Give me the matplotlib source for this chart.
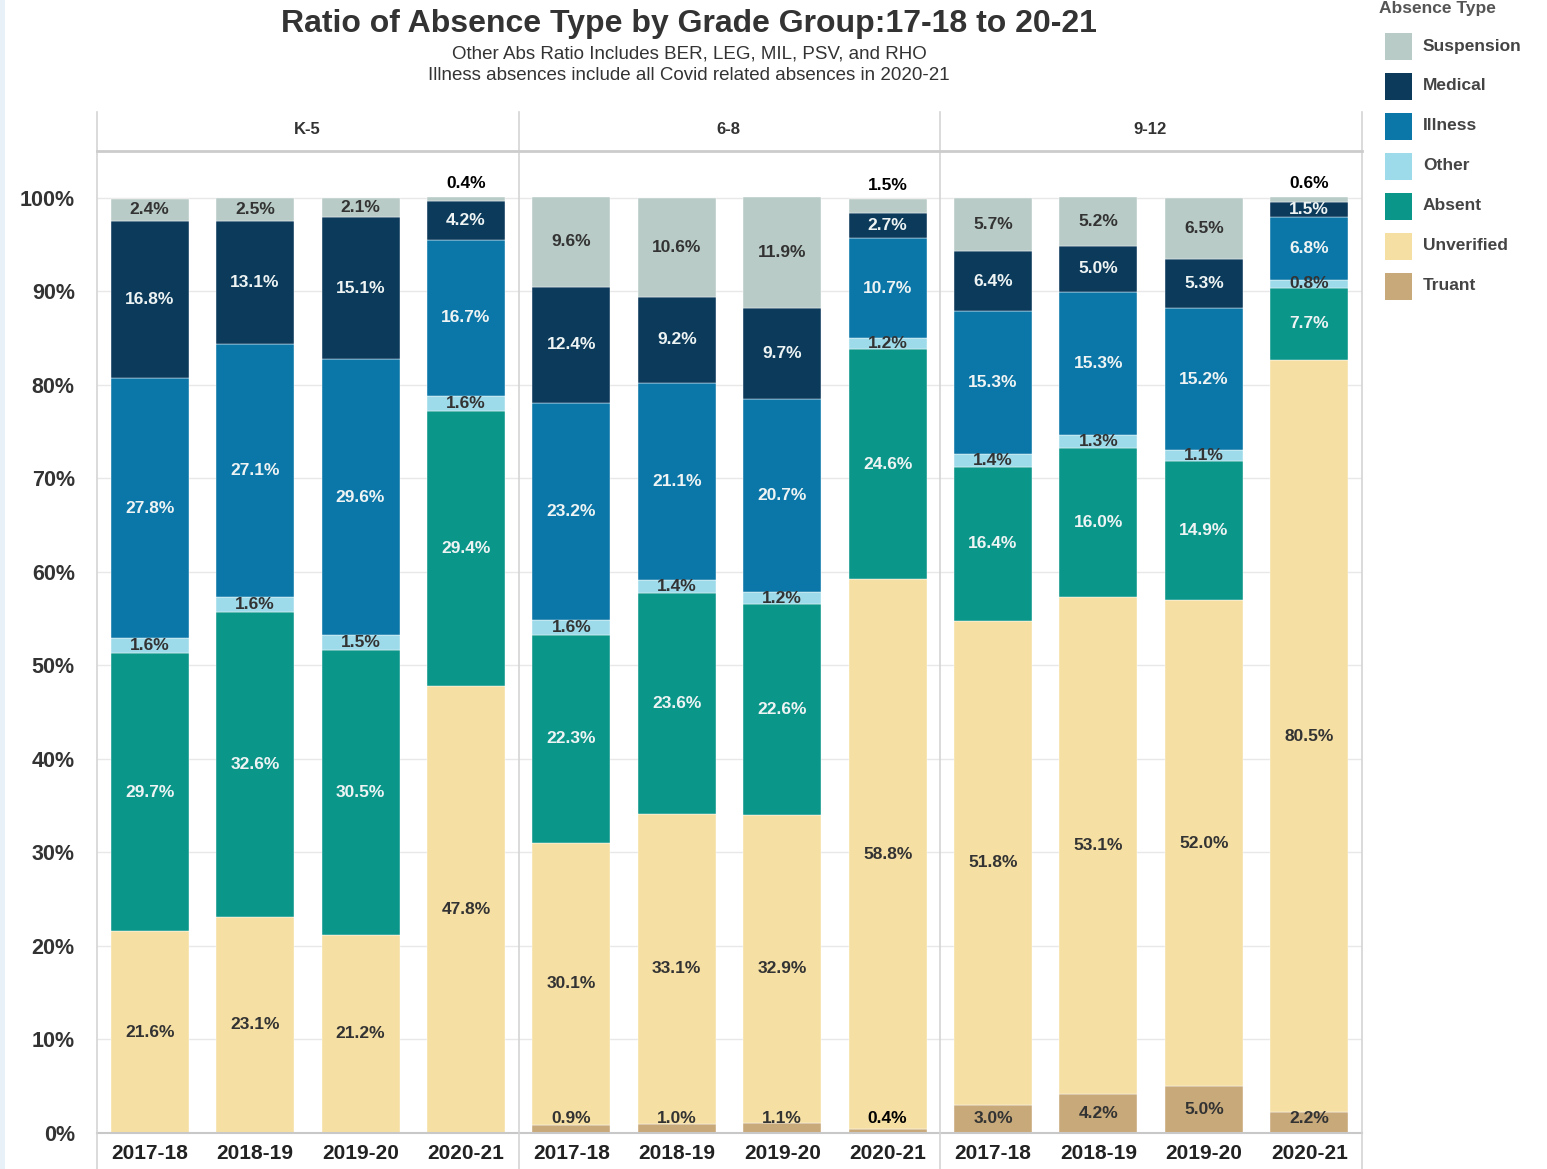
import numpy as np
import matplotlib
matplotlib.use("Agg")
import matplotlib.pyplot as plt
from matplotlib.patches import Rectangle

plt.rcParams['font.family'] = ['Liberation Sans', 'DejaVu Sans']

# 数据
groups = ['K-5', '6-8', '9-12']
years = ['2017-18', '2018-19', '2019-20', '2020-21']

truant = [0, 0, 0, 0, 0.9, 1.0, 1.1, 0.4, 3.0, 4.2, 5.0, 2.2]
unverified = [21.6, 23.1, 21.2, 47.8, 30.1, 33.1, 32.9, 58.8, 51.8, 53.1, 52.0, 80.5]
absent = [29.7, 32.6, 30.5, 29.4, 22.3, 23.6, 22.6, 24.6, 16.4, 16.0, 14.9, 7.7]
other = [1.6, 1.6, 1.5, 1.6, 1.6, 1.4, 1.2, 1.2, 1.4, 1.3, 1.1, 0.8]
illness = [27.8, 27.1, 29.6, 16.7, 23.2, 21.1, 20.7, 10.7, 15.3, 15.3, 15.2, 6.8]
medical = [16.8, 13.1, 15.1, 4.2, 12.4, 9.2, 9.7, 2.7, 6.4, 5.0, 5.3, 1.5]
suspension = [2.4, 2.5, 2.1, 0.4, 9.6, 10.6, 11.9, 1.5, 5.7, 5.2, 6.5, 0.6]

# 从下往上的堆叠顺序
series = [
    ('Truant', truant, '#c8a97a', '#333333'),
    ('Unverified', unverified, '#f5dfa3', '#333333'),
    ('Absent', absent, '#0b968a', '#eef4f4'),
    ('Other', other, '#9ddbea', '#333333'),
    ('Illness', illness, '#0b76a8', '#eef4f4'),
    ('Medical', medical, '#0c3a5b', '#eef4f4'),
    ('Suspension', suspension, '#b8cbc6', '#333333'),
]

W, H = 1547, 1169
fig = plt.figure(figsize=(W / 100, H / 100), dpi=100)


def px(x, y):
    return x / W, 1 - y / H


# 左边浅蓝色边
fig.add_artist(Rectangle((0, 0), 5 / W, 1, transform=fig.transFigure,
                         color='#e8f1f8', lw=0))

# 标题
fig.text(*px(689, 24), 'Ratio of Absence Type by Grade Group:17-18 to 20-21',
         ha='center', va='center', fontsize=23, fontweight='bold', color='#333333')
fig.text(*px(689, 54), 'Other Abs Ratio Includes BER, LEG, MIL, PSV, and RHO',
         ha='center', va='center', fontsize=13.5, color='#333333')
fig.text(*px(689, 76), 'Illness absences include all Covid related absences in 2020-21',
         ha='center', va='center', fontsize=13.5, color='#333333')

# 主图
left, right, top, bottom = 97, 1362, 152, 1133
ax = fig.add_axes([left / W, 1 - bottom / H, (right - left) / W, (bottom - top) / H])
n = len(truant)
x = np.arange(n)
ax.set_xlim(-0.5, n - 0.5)
ax.set_ylim(0, 104.9)

cum = np.zeros(n)
for name, vals, color, tcolor in series:
    vals = np.array(vals, dtype=float)
    ax.bar(x, vals, bottom=cum, width=0.74, color=color, edgecolor='white',
           linewidth=0.3, zorder=2)
    for i in range(n):
        v = vals[i]
        if v <= 0:
            continue
        mid = cum[i] + v / 2
        c = tcolor
        if name == 'Suspension' and v < 2:
            # 太小的放在柱子上面
            y = cum[i] + v + 1.4
            c = 'black'
        elif name == 'Truant':
            y = max(mid, 1.6)
            if v < 0.5:
                c = 'black'
        else:
            y = mid
        ax.text(x[i], y, f'{v:.1f}%', ha='center', va='center', fontsize=12.5,
                fontweight='bold', color=c, zorder=3)
    cum += vals

ax.set_yticks(np.arange(0, 101, 10))
ax.set_yticklabels([f'{t}%' for t in range(0, 101, 10)], fontsize=15.5,
                   fontweight='bold', color='#333333')
ax.set_xticks(x)
ax.set_xticklabels(years * 3, fontsize=15, fontweight='bold', color='#222222')
ax.tick_params(axis='both', length=0)
ax.tick_params(axis='x', pad=8)
ax.tick_params(axis='y', pad=16)
ax.grid(axis='y', color='#e8e8e8', lw=1, zorder=0)
for s in ['top', 'right', 'left']:
    ax.spines[s].set_visible(False)
ax.spines['bottom'].set_color('#c8c8c8')
ax.spines['bottom'].set_linewidth(1.5)

# 分面分隔线
for xv in [left, 519, 940, right]:
    fig.add_artist(plt.Line2D([xv / W, xv / W], [0, 1 - 112 / H],
                              transform=fig.transFigure, color='#d4d4d4', lw=1.2))
fig.add_artist(plt.Line2D([left / W, right / W], [1 - 151 / H, 1 - 151 / H],
                          transform=fig.transFigure, color='#cccccc', lw=2))

# 分面标题
for g, cx in zip(groups, [307, 728, 1150]):
    fig.text(*px(cx, 130), g, ha='center', va='center', fontsize=12,
             fontweight='bold', color='#333333')

# 图例
fig.text(*px(1379, 9), 'Absence Type', ha='left', va='center', fontsize=12.5,
         fontweight='bold', color='#555555')
for k, (name, vals, color, tcolor) in enumerate(reversed(series)):
    y0 = 33 + 40 * k
    fig.add_artist(Rectangle(px(1385, y0 + 27), 27 / W, 27 / H,
                             transform=fig.transFigure, color=color, lw=0))
    fig.text(*px(1423, y0 + 13), name, ha='left', va='center', fontsize=12.5,
             fontweight='bold', color='#444444')

fig.savefig('out.png', dpi=100)
